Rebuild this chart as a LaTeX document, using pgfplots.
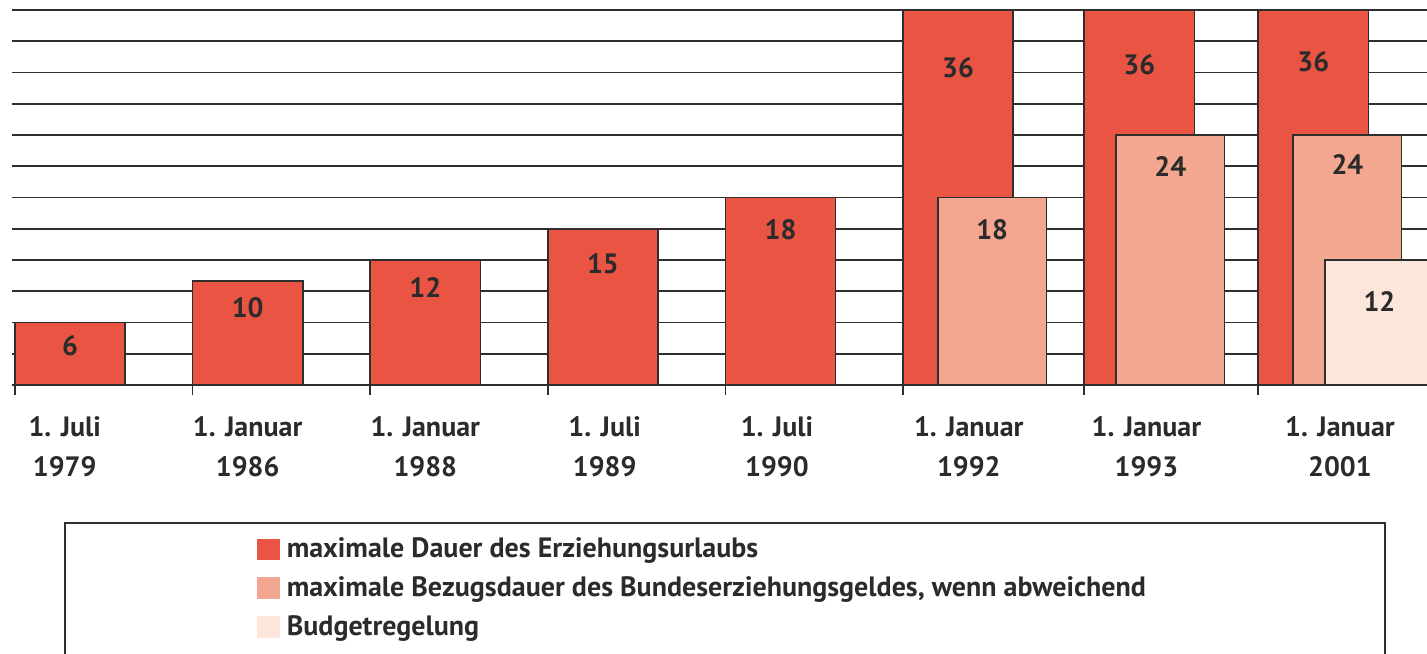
\documentclass[border=0pt]{standalone}
\usepackage{pgfplots}
\pgfplotsset{compat=1.18}
\usepackage{fontspec}
\setmainfont{PT Sans}
\definecolor{cRed}{HTML}{E95443}
\definecolor{cPink}{HTML}{F3A790}
\definecolor{cLight}{HTML}{FCE5DA}
\definecolor{txt}{HTML}{2B2B2B}
\definecolor{gridc}{HTML}{2E2E2E}

\pgfplotstableread{
x y off
0.31 6 11.5
1.31 10 13.5
2.31 12 13.5
3.31 15 17.5
4.31 18 16
5.31 36 29
6.33 36 27.5
7.31 36 26
}\redtab
\pgfplotstableread{
x y off
5.502 18 16
6.505 24 15.5
7.502 24 14.5
}\pinktab
\pgfplotstableread{
x y off
7.682 12 20.5
}\lighttab

\begin{document}
\begin{tikzpicture}
\useasboundingbox (0,0) rectangle (713.5pt,-326.5pt);
\clip (0,0) rectangle (713.5pt,-326.5pt);
\begin{axis}[
  at={(6pt,-192.5pt)}, anchor=south west,
  scale only axis, width=707.5pt, height=187.5pt,
  xmin=-0.017, xmax=7.95, ymin=0, ymax=36,
  clip=false,
  axis line style={draw=none},
  ytick={0,3,...,36}, yticklabels={}, ytick style={draw=none},
  ymajorgrids, grid style={draw=gridc, line width=0.9pt},
  xtick={0,1,2,3,4,5,6.02,7}, xticklabels={,,,,,,,},
  xtick pos=bottom, tick align=outside, major tick length=5pt,
  xtick style={draw=gridc, line width=0.8pt},
  extra x ticks={0.28,1.31,2.31,3.32,4.29,5.37,6.37,7.46},
  extra x tick labels={{1. Juli\\1979},{1. Januar\\1986},{1. Januar\\1988},{1. Juli\\1989},{1. Juli\\1990},{1. Januar\\1992},{1. Januar\\1993},{1. Januar\\2001}},
  extra x tick style={major tick length=0pt},
  xticklabel style={align=center, font=\fontsize{14}{20}\selectfont\bfseries, text=txt, yshift=-12pt},
  /pgf/number format/assume math mode=true,
  visualization depends on={\thisrow{off} \as \off},
  nodes near coords,
  point meta=y,
  every node near coord/.append style={anchor=center, yshift={-\off*1pt}, font=\fontsize{14}{15}\selectfont\bfseries, text=txt},
  legend style={draw=none, fill=none, at={(0.173,-0.396)}, anchor=north west,
    font=\fontsize{14}{15}\selectfont\bfseries, text=txt, inner sep=0pt,
    row sep=4pt, column sep=1.5pt},
  legend cell align=left,
]
\addplot[ybar, bar width=0.62, bar shift=0pt, fill=cRed, draw=gridc, line width=0.8pt,
  legend image code/.code={\fill[cRed] (0pt,-5pt) rectangle (10.5pt,5pt);}]
  table[x=x,y=y] {\redtab};
\addlegendentry{maximale Dauer des Erziehungsurlaubs}
\addplot[ybar, bar width=0.61, bar shift=0pt, fill=cPink, draw=gridc, line width=0.8pt,
  legend image code/.code={\fill[cPink] (0pt,-5pt) rectangle (10.5pt,5pt);}]
  table[x=x,y=y] {\pinktab};
\addlegendentry{maximale Bezugsdauer des Bundeserziehungsgeldes, wenn abweichend}
\addplot[ybar, bar width=0.61, bar shift=0pt, fill=cLight, draw=gridc, line width=0.8pt,
  legend image code/.code={\fill[cLight] (0pt,-5pt) rectangle (10.5pt,5pt);}]
  table[x=x,y=y] {\lighttab};
\addlegendentry{Budgetregelung}
\end{axis}
\draw[gridc, line width=0.8pt] (32.5pt,-261.5pt) rectangle (692.5pt,-340pt);
\end{tikzpicture}
\end{document}
